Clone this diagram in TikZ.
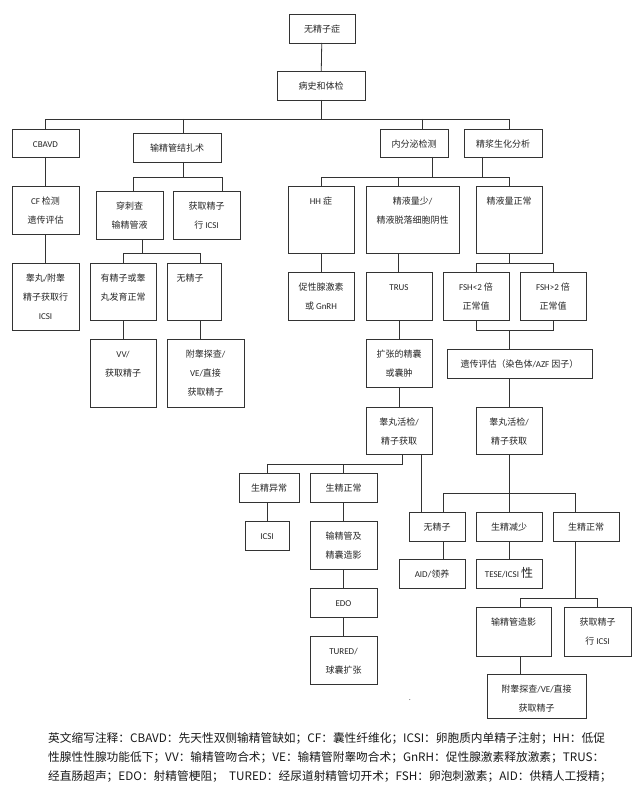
\documentclass[tikz,border=0pt]{standalone}
\usepackage{fontspec}
\setmainfont{Carlito}
\newfontfamily\cjk{Noto Sans CJK SC}
\newcommand\zh[1]{{\cjk #1}}
\tikzset{
  x=1pt, y=-1pt,
  ln/.style={draw=black!80, line width=0.8pt},
  boxst/.style={draw=black!80, line width=0.8pt, rectangle, inner sep=0pt, outer sep=0pt},
  txtst/.style={anchor=north, inner sep=0pt, align=center, text=black!85, font=\fontsize{9}{19}\selectfont},
  notest/.style={anchor=base west, inner sep=0pt, text=black!90, font=\cjk\fontsize{11.7}{19}\selectfont}
}
\newcommand\bx[6]{%
  \node[boxst, anchor=north west, minimum width={#4-#2}, minimum height={#5-#3}] (#1) at (#2,#3) {};
  \node[txtst] (#1t) at ([yshift=-9pt]#1.north) {\rule{0pt}{9pt}#6};}
\begin{document}
\begin{tikzpicture}
\useasboundingbox[fill=white] (0,0) rectangle (640,786);
% boxes
\bx{t0}{289}{14}{355}{43}{\zh{无精子症}}
\bx{t1}{277}{71}{365}{100}{\zh{病史和体检}}
\bx{cbavd}{12}{129}{79}{157}{CBAVD}
\bx{jzs}{133}{133}{221}{162}{\zh{输精管结扎术}}
\bx{nfm}{380}{129}{448}{157}{\zh{内分泌检测}}
\bx{jz}{464}{129}{542}{157}{\zh{精浆生化分析}}
\bx{cf}{12}{186}{79}{234}{CF \zh{检测}\\\zh{遗传评估}}
\bx{cc}{96}{191}{163}{239}{\zh{穿刺查}\\\zh{输精管液}}
\bx{hq}{173}{191}{240}{239}{\zh{获取精子}\\\zh{行} ICSI}
\bx{gw}{12}{263}{79}{330}{\zh{睾丸}/\zh{附睾}\\\zh{精子获取行}\\ICSI}
\bx{yjz}{90}{263}{156}{320}{\zh{有精子或睾}\\\zh{丸发育正常}}
\bx{wjz}{167}{263}{221}{320}{\hspace*{-8pt}\zh{无精子}}
\bx{vv}{90}{339}{156}{407}{VV/\\\zh{获取精子}}
\bx{fg}{167}{339}{244}{407}{\zh{附睾探查}/\\VE/\zh{直接}\\\zh{获取精子}}
\bx{hh}{288}{186}{354}{253}{HH \zh{症}}
\bx{jys}{366}{186}{459}{253}{\zh{精液量少}/\\\zh{精液脱落细胞阴性}}
\bx{jzc}{476}{186}{542}{253}{\zh{精液量正常}}
\bx{cx}{288}{272}{354}{320}{\zh{促性腺激素}\\\zh{或} GnRH}
\bx{trus}{366}{272}{432}{320}{TRUS}
\bx{fa}{443}{272}{509}{320}{FSH<2 \zh{倍}\\\zh{正常值}}
\bx{fb}{520}{272}{586}{320}{FSH>2 \zh{倍}\\\zh{正常值}}
\bx{kz}{366}{339}{432}{387}{\zh{扩张的精囊}\\\zh{或囊肿}}
\bx{yc}{447}{349}{592}{378}{\zh{遗传评估（染色体}/AZF \zh{因子）}}
\bx{ggL}{366}{407}{432}{454}{\zh{睾丸活检}/\\\zh{精子获取}}
\bx{ggR}{476}{407}{542}{454}{\zh{睾丸活检}/\\\zh{精子获取}}
\bx{sy}{239}{473}{299}{502}{\zh{生精异常}}
\bx{sza}{310}{473}{377}{502}{\zh{生精正常}}
\bx{icsi}{245}{521}{289}{550}{ICSI}
\bx{sjg}{310}{521}{377}{569}{\zh{输精管及}\\\zh{精囊造影}}
\bx{edo}{310}{588}{377}{617}{EDO}
\bx{tured}{310}{636}{377}{684}{TURED/\\\zh{球囊扩张}}
\bx{wjzR}{409}{512}{465}{541}{\zh{无精子}}
\bx{sjs}{476}{512}{542}{541}{\zh{生精减少}}
\bx{szb}{553}{512}{619}{541}{\zh{生精正常}}
\bx{aid}{399}{559}{465}{588}{AID/\zh{领养}}
\bx{tese}{476}{559}{542}{588}{TESE/ICSI \smash{\cjk\fontsize{12}{12}\selectfont 性}}
\bx{zy}{476}{607}{551}{656}{\zh{输精管造影}}
\bx{hqR}{564}{607}{631}{656}{\zh{获取精子}\\\zh{行} ICSI}
\bx{fgB}{487}{674}{586}{718}{\zh{附睾探查}/VE/\zh{直接}\\\zh{获取精子}}
% bus levels
\coordinate (Y1) at (0,119);
\coordinate (Y2) at (0,177);
\coordinate (Y3) at (0,253);
\coordinate (Y4) at (0,263);
\coordinate (Y5) at (0,330);
\coordinate (Y6) at (0,464);
\coordinate (Y7) at (0,493);
\coordinate (Y8) at (0,598);
% top
\draw[ln] (t0) -- (t1);
\draw[ln] (t1.south) -- (t1.south |- Y1);
\draw[ln] (cbavd.north) -- (cbavd.north |- Y1) -- (509,0 |- Y1) -- (509,0 |- jz.north);
\draw[ln] (183,0 |- Y1) -- (183,0 |- jzs.north);
\draw[ln] (422,0 |- Y1) -- (422,0 |- nfm.north);
% left branches
\draw[ln] (cbavd) -- (cf);
\draw[ln] (cf) -- (gw);
\draw[ln] (183,0 |- jzs.south) -- (183,0 |- Y2);
\draw[ln] (133,0 |- cc.north) -- (133,0 |- Y2) -- (222,0 |- Y2) -- (222,0 |- hq.north);
\draw[ln] (142,0 |- cc.south) -- (142,0 |- Y3);
\draw[ln] (yjz.north) -- (yjz.north |- Y3) -- (200,0 |- Y3) -- (200,0 |- wjz.north);
\draw[ln] (yjz) -- (vv);
\draw[ln] (200,0 |- wjz.south) -- (200,0 |- fg.north);
% middle / right
\draw[ln] (432,0 |- nfm.south) -- (432,0 |- Y2);
\draw[ln] (482,0 |- jz.south) -- (482,0 |- Y2);
\draw[ln] (hh.north) -- (hh.north |- Y2) -- (jzc.north |- Y2) -- (jzc.north);
\draw[ln] (398,0 |- Y2) -- (398,0 |- jys.north);
\draw[ln] (hh) -- (cx);
\draw[ln] (398,0 |- jys.south) -- (398,0 |- trus.north);
\draw[ln] (trus) -- (kz);
\draw[ln] (kz) -- (ggL);
\draw[ln] (jzc.south) -- (jzc.south |- Y4);
\draw[ln] (fa.north) -- (fa.north |- Y4) -- (fb.north |- Y4) -- (fb.north);
\draw[ln] (fa.south) -- (fa.south |- Y5) -- (fb.south |- Y5) -- (fb.south);
\draw[ln] (509,0 |- Y5) -- (509,0 |- yc.north);
\draw[ln] (509,0 |- yc.south) -- (509,0 |- ggR.north);
% lower left
\draw[ln] (402,0 |- ggL.south) -- (402,0 |- Y6) -- (267,0 |- Y6) -- (267,0 |- sy.north);
\draw[ln] (sza.north) -- (sza.north |- Y6);
\draw[ln] (421,0 |- ggL.south) -- (421,0 |- wjzR.north);
\draw[ln] (267,0 |- sy.south) -- (267,0 |- icsi.north);
\draw[ln] (sza) -- (sjg);
\draw[ln] (sjg) -- (edo);
\draw[ln] (edo) -- (tured);
% lower right
\draw[ln] (ggR.south) -- (ggR.south |- Y7);
\draw[ln] (443,0 |- wjzR.north) -- (443,0 |- Y7) -- (575,0 |- Y7) -- (575,0 |- szb.north);
\draw[ln] (sjs.north) -- (sjs.north |- Y7);
\draw[ln] (443,0 |- wjzR.south) -- (443,0 |- aid.north);
\draw[ln] (sjs) -- (tese);
\draw[ln] (575,0 |- szb.south) -- (575,0 |- Y8);
\draw[ln] (520,0 |- zy.north) -- (520,0 |- Y8) -- (hqR.north |- Y8) -- (hqR.north);
\draw[ln] (520,0 |- zy.south) -- (520,0 |- fgB.north);
% stray dot
\node[inner sep=0pt, text=black!70, font=\fontsize{8}{8}\selectfont] (dot) at (410,700) {.};
% footnote
\node[notest] (n1) at (48,742) {英文缩写注释：CBAVD：先天性双侧输精管缺如；CF：囊性纤维化；ICSI：卵胞质内单精子注射；HH：低促};
\node[notest] (n2) at (48,761) {性腺性性腺功能低下；VV：输精管吻合术；VE：输精管附睾吻合术；GnRH：促性腺激素释放激素；TRUS：};
\node[notest] (n3) at (48,780) {经直肠超声；EDO：射精管梗阻；\ \ TURED：经尿道射精管切开术；FSH：卵泡刺激素；AID：供精人工授精；};
\end{tikzpicture}
\end{document}
